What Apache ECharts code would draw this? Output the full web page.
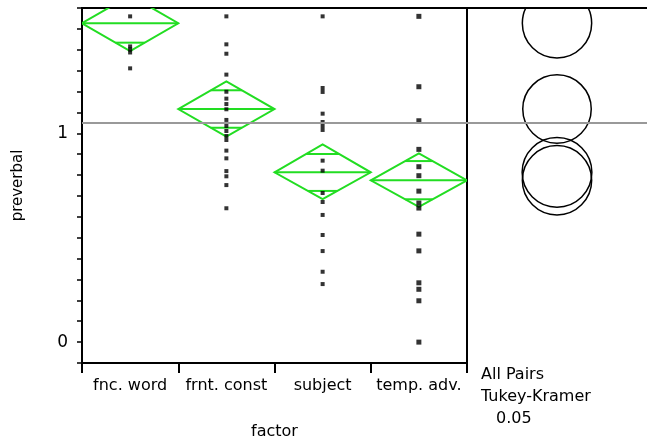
<!DOCTYPE html>
<html>
<head>
<meta charset="utf-8">
<script src="https://cdn.jsdelivr.net/npm/echarts@6/dist/echarts.min.js"></script>
<style>
html,body{margin:0;padding:0;background:#fff;}
#c{width:647px;height:445px;}
</style>
</head>
<body>
<div id="c"></div>
<script>
// ---- data ----
const categories = ['fnc. word', 'frnt. const', 'subject', 'temp. adv.'];
const fncWord   = [1.56, 1.416, 1.402, 1.387, 1.311];
const frntConst = [1.56, 1.426, 1.381, 1.281, 1.199, 1.166, 1.140, 1.115, 1.064, 1.035, 1.011, 0.987, 0.968, 0.917, 0.880, 0.819, 0.794, 0.752, 0.641];
const subject   = [1.56, 1.217, 1.198, 1.094, 1.054, 1.035, 1.016, 0.869, 0.821, 0.714, 0.671, 0.609, 0.513, 0.436, 0.337, 0.278];
const tempAdv   = [1.56, 1.223, 1.060, 0.923, 0.840, 0.797, 0.723, 0.666, 0.642, 0.517, 0.437, 0.284, 0.253, 0.198, 0.0];
const groupMeans   = [1.527, 1.116, 0.813, 0.775];
const ciLower      = [1.394, 0.984, 0.685, 0.648];
const ciUpper      = [1.660, 1.249, 0.947, 0.904];
const overlapLower = [1.434, 1.027, 0.724, 0.684];
const overlapUpper = [1.620, 1.206, 0.901, 0.867];
const circleRadius = [0.166, 0.164, 0.167, 0.166];
const grandMean = 1.053;
const yTickLabels = ['0', '1'];
const panelText = ['All Pairs', 'Tukey-Kramer', '0.05'];

const FONT = 'DejaVu Sans';
const GREEN = '#22dd22';

const groups = [fncWord, frntConst, subject, tempAdv];
function pts(i) { return groups[i].map(v => [i, v]); }

const diamondData = categories.map((c, i) => [i, ciLower[i], groupMeans[i], ciUpper[i], overlapLower[i], overlapUpper[i]]);
const circleData = groupMeans.map((m, i) => [m, circleRadius[i]]);

function clipOf(params) {
  const cs = params.coordSys;
  return { type: 'rect', shape: { x: cs.x, y: cs.y, width: cs.width, height: cs.height } };
}

function renderDiamond(params, api) {
  const i = api.value(0);
  const m = api.coord([i, api.value(2)]);
  const cx = m[0], ym = m[1];
  const bw = api.size([1, 0])[0];
  const L = cx - bw / 2, R = cx + bw / 2;
  const yLo = api.coord([i, api.value(1)])[1];
  const yHi = api.coord([i, api.value(3)])[1];
  const yOl = api.coord([i, api.value(4)])[1];
  const yOu = api.coord([i, api.value(5)])[1];
  const st = { stroke: GREEN, lineWidth: 2, fill: null };
  function mark(y, yTip) {
    const h = Math.abs(yTip - ym);
    const d = Math.abs(y - ym);
    const hw = bw / 2 * (1 - d / h);
    return { type: 'line', shape: { x1: cx - hw, y1: y, x2: cx + hw, y2: y }, style: st };
  }
  return {
    type: 'group',
    clipPath: clipOf(params),
    children: [
      { type: 'polygon', shape: { points: [[L, ym], [cx, yHi], [R, ym], [cx, yLo]] }, style: st },
      { type: 'line', shape: { x1: L, y1: ym, x2: R, y2: ym }, style: st },
      mark(yOl, yLo),
      mark(yOu, yHi)
    ]
  };
}

function renderCircle(params, api) {
  const c = api.coord([0.5, api.value(0)]);
  const top = api.coord([0.5, api.value(0) + api.value(1)]);
  const r = Math.abs(c[1] - top[1]);
  return {
    type: 'group',
    clipPath: clipOf(params),
    children: [
      { type: 'circle', shape: { cx: c[0], cy: c[1], r: r }, style: { stroke: '#000', lineWidth: 1.5, fill: null } }
    ]
  };
}

const chart = echarts.init(document.getElementById('c'), null, { renderer: 'canvas' });
const yCommon = { type: 'value', min: -0.1, max: 1.6, interval: 0.1 };
chart.setOption({
  animation: false,
  textStyle: { fontFamily: FONT },
  grid: [
    { left: 82, top: 8, width: 385, height: 355, show: true, borderColor: '#000', borderWidth: 2, backgroundColor: 'transparent' },
    { left: 467, top: 8, width: 185, height: 355 }
  ],
  xAxis: [
    {
      gridIndex: 0, type: 'category', data: categories, boundaryGap: true,
      axisLine: { onZero: false, lineStyle: { color: '#000', width: 2 } },
      axisTick: { show: true, length: 10, lineStyle: { color: '#000', width: 2 }, interval: 0 },
      axisLabel: { color: '#000', fontSize: 16, margin: 15, fontFamily: FONT, interval: 0 },
      name: 'factor', nameLocation: 'middle', nameGap: 61,
      nameTextStyle: { color: '#000', fontSize: 16, fontFamily: FONT }
    },
    {
      gridIndex: 1, type: 'value', min: 0, max: 1, position: 'top',
      axisLine: { show: true, onZero: false, lineStyle: { color: '#000', width: 2 } },
      axisTick: { show: false }, axisLabel: { show: false }, splitLine: { show: false }
    }
  ],
  yAxis: [
    Object.assign({}, yCommon, {
      gridIndex: 0,
      axisLine: { show: true, onZero: false, lineStyle: { color: '#000', width: 2 } },
      axisTick: { show: true, length: 5, lineStyle: { color: '#000', width: 1.5 } },
      splitLine: { show: false },
      axisLabel: {
        color: '#000', fontSize: 17, margin: 14, fontFamily: FONT,
        formatter: v => { const s = String(Math.round(v * 10) / 10); return yTickLabels.indexOf(s) >= 0 ? s : ''; }
      },
      name: 'preverbal', nameLocation: 'middle', nameGap: 56,
      nameTextStyle: { color: '#000', fontSize: 15, fontFamily: FONT }
    }),
    Object.assign({}, yCommon, {
      gridIndex: 1, show: false, splitLine: { show: false }
    })
  ],
  series: [
    {
      type: 'custom', xAxisIndex: 0, yAxisIndex: 0, clip: true, z: 3,
      renderItem: renderDiamond, data: diamondData, encode: { x: 0, y: 2 },
      markLine: {
        silent: true, symbol: 'none', label: { show: false },
        lineStyle: { color: '#999', width: 2, type: 'solid' },
        data: [{ yAxis: grandMean }]
      }
    },
    { type: 'scatter', xAxisIndex: 0, yAxisIndex: 0, symbol: 'rect', symbolSize: 4, itemStyle: { color: '#000' }, data: pts(0), z: 4 },
    { type: 'scatter', xAxisIndex: 0, yAxisIndex: 0, symbol: 'rect', symbolSize: 4, itemStyle: { color: '#000' }, data: pts(1), z: 4 },
    { type: 'scatter', xAxisIndex: 0, yAxisIndex: 0, symbol: 'rect', symbolSize: 4, itemStyle: { color: '#000' }, data: pts(2), z: 4 },
    { type: 'scatter', xAxisIndex: 0, yAxisIndex: 0, symbol: 'rect', symbolSize: 5, itemStyle: { color: '#000' }, data: pts(3), z: 4 },
    {
      type: 'custom', xAxisIndex: 1, yAxisIndex: 1, clip: true,
      renderItem: renderCircle, data: circleData, encode: { y: 0 },
      markLine: {
        silent: true, symbol: 'none', label: { show: false },
        lineStyle: { color: '#999', width: 2, type: 'solid' },
        data: [{ yAxis: grandMean }]
      }
    }
  ],
  graphic: [
    { type: 'text', left: 481, top: 367, style: { text: panelText[0], fontSize: 16, fontFamily: FONT, fill: '#000' } },
    { type: 'text', left: 481, top: 389, style: { text: panelText[1], fontSize: 16, fontFamily: FONT, fill: '#000' } },
    { type: 'text', left: 496, top: 411, style: { text: panelText[2], fontSize: 16, fontFamily: FONT, fill: '#000' } }
  ]
});
</script>
</body>
</html>
